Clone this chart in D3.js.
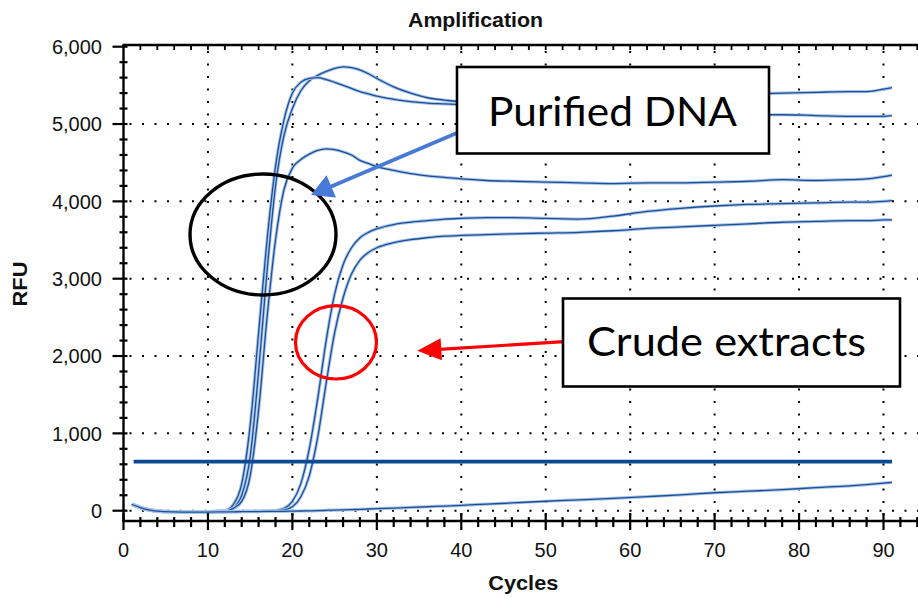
<!DOCTYPE html>
<html><head><meta charset="utf-8">
<script src="https://cdn.jsdelivr.net/npm/d3@7"></script>
<style>html,body{margin:0;padding:0;background:#fff;} svg{display:block;}</style>
</head><body>
<svg id="chart" width="918" height="598"></svg>
<script>
// ---------- data ----------
const chartTitle = "Amplification";
const xAxisTitle = "Cycles";
const yAxisTitle = "RFU";
const xTickValues = [0, 10, 20, 30, 40, 50, 60, 70, 80, 90];
const yTickValues = [0, 1000, 2000, 3000, 4000, 5000, 6000];
const cycles = [1,2,3,4,6,8,10,12,13,14,15,16,17,18,19,20,21,22,23,24,25,26,27,28,29,30,32,34,36,38,40,43,46,50,54,58,62,66,70,74,78,82,86,88,90,91];
const purifiedA = [85,42,12,-2,-12,-15,-12,-2,40,200,700,1800,3100,4200,4850,5200,5430,5560,5630,5680,5720,5740,5730,5700,5650,5590,5480,5400,5340,5310,5290,5290,5300,5320,5340,5350,5360,5370,5380,5390,5400,5410,5420,5420,5450,5470];
const purifiedB = [90,45,15,0,-12,-15,-12,0,80,350,1100,2300,3500,4450,5050,5400,5540,5590,5600,5575,5540,5500,5460,5420,5390,5360,5320,5290,5270,5260,5250,5230,5210,5190,5170,5150,5140,5130,5120,5120,5120,5110,5100,5100,5100,5110];
const purifiedC = [80,40,10,-5,-15,-18,-15,-5,30,120,450,1300,2500,3500,4150,4430,4540,4610,4660,4680,4670,4640,4600,4530,4490,4450,4400,4360,4330,4310,4290,4270,4260,4250,4240,4230,4240,4240,4250,4260,4280,4270,4280,4290,4320,4340];
const crudeA = [80,40,10,-5,-15,-18,-18,-15,-12,-10,-8,-5,-2,5,30,120,350,800,1450,2200,2800,3180,3400,3530,3600,3645,3700,3730,3750,3770,3780,3790,3790,3780,3770,3810,3870,3910,3940,3960,3970,3980,3990,3990,4000,4010];
const crudeB = [80,40,10,-5,-15,-18,-18,-15,-12,-10,-8,-6,-4,0,10,50,180,450,950,1650,2300,2750,3060,3240,3340,3400,3465,3505,3530,3550,3560,3570,3580,3590,3600,3620,3650,3670,3690,3710,3730,3740,3750,3750,3760,3760];
const negative = [80,40,10,-5,-15,-18,-18,-15,-14,-13,-12,-11,-10,-9,-8,-6,-4,-2,0,5,8,11,14,18,22,26,34,42,51,60,70,85,100,122,140,160,182,205,232,252,272,298,322,338,356,366];
const thresholdRFU = 634;
const thresholdCycles = [1.2, 91];
const labelPurified = "Purified DNA";
const labelCrude = "Crude extracts";

// ---------- layout ----------
const svg = d3.select("#chart");
const x = d3.scaleLinear().domain([0, 90]).range([123.5, 883.5]);
const y = d3.scaleLinear().domain([0, 6000]).range([510.7, 46.7]);
const pLeft = x(0), pRight = x(94.5), pTop = y(6022), pBottom = y(-134);

// grid (dotted)
const grid = svg.append("g").attr("stroke", "#000").attr("stroke-width", 2).attr("stroke-dasharray", "2,10.5");
grid.selectAll("line.gx").data(xTickValues.filter(d => d > 0)).join("line").attr("class", "gx")
  .attr("x1", d => x(d)).attr("x2", d => x(d)).attr("y1", pTop + 6).attr("y2", pBottom);
grid.selectAll("line.gy").data(yTickValues.filter(d => d < 6000)).join("line").attr("class", "gy")
  .attr("x1", pLeft + 6).attr("x2", pRight).attr("y1", d => y(d)).attr("y2", d => y(d));

// curves
const series = [purifiedA, purifiedB, purifiedC, crudeA, crudeB, negative];
const line = d3.line().x((d, i) => x(cycles[i])).y(d => y(d)).curve(d3.curveMonotoneX);
const curves = svg.append("g").attr("fill", "none");
series.forEach(s => {
  curves.append("path").attr("d", line(s)).attr("stroke", "#a7c5e8").attr("stroke-width", 3.2);
  curves.append("path").attr("d", line(s)).attr("stroke", "#1d4f98").attr("stroke-width", 1.3);
});

// threshold
svg.append("line")
  .attr("x1", x(thresholdCycles[0])).attr("x2", x(thresholdCycles[1]))
  .attr("y1", y(thresholdRFU)).attr("y2", y(thresholdRFU))
  .attr("stroke", "#0b4a94").attr("stroke-width", 3.8);

// axes frame
const ax = svg.append("g").attr("stroke", "#000");
ax.append("line").attr("x1", pLeft).attr("x2", pLeft).attr("y1", pTop).attr("y2", pBottom + 1).attr("stroke-width", 2.4);
ax.append("line").attr("x1", pLeft - 1).attr("x2", 918).attr("y1", pBottom).attr("y2", pBottom).attr("stroke-width", 2.4);
ax.append("line").attr("x1", pLeft - 1).attr("x2", 918).attr("y1", pTop).attr("y2", pTop).attr("stroke-width", 2.4);

// y ticks
const yMinor = d3.range(0, 6001, 200).filter(d => d % 1000 !== 0);
ax.selectAll("line.ymaj").data(yTickValues).join("line").attr("class", "ymaj")
  .attr("x1", pLeft - 11).attr("x2", pLeft + 4).attr("y1", d => y(d)).attr("y2", d => y(d)).attr("stroke-width", 2.2);
ax.selectAll("line.ymin").data(yMinor).join("line").attr("class", "ymin")
  .attr("x1", pLeft - 4).attr("x2", pLeft + 4).attr("y1", d => y(d)).attr("y2", d => y(d)).attr("stroke-width", 2.2);

// x ticks
const xMinor = d3.range(0, 95, 2).filter(d => d % 10 !== 0);
ax.selectAll("line.xmaj").data(xTickValues).join("line").attr("class", "xmaj")
  .attr("x1", d => x(d)).attr("x2", d => x(d)).attr("y1", pBottom - 8).attr("y2", pBottom + 9).attr("stroke-width", 2.2);
ax.selectAll("line.xmin").data(xMinor).join("line").attr("class", "xmin")
  .attr("x1", d => x(d)).attr("x2", d => x(d)).attr("y1", pBottom - 4).attr("y2", pBottom + 6).attr("stroke-width", 2.2);
// top border ticks
ax.selectAll("line.tmin").data(d3.range(2, 95, 2)).join("line").attr("class", "tmin")
  .attr("x1", d => x(d)).attr("x2", d => x(d)).attr("y1", pTop).attr("y2", pTop + 5).attr("stroke-width", 1.8);

// tick labels
const fmt = d3.format(",");
const lab = svg.append("g").attr("font-family", "'Liberation Sans', Arial, sans-serif").attr("font-size", 20).attr("fill", "#111");
lab.selectAll("text.yl").data(yTickValues).join("text").attr("class", "yl")
  .attr("x", 102).attr("y", d => y(d)).attr("dy", "0.36em").attr("text-anchor", "end").text(d => fmt(d));
lab.selectAll("text.xl").data(xTickValues).join("text").attr("class", "xl")
  .attr("x", d => x(d)).attr("y", 557).attr("text-anchor", "middle").text(d => d);

// titles
const tf = "'Liberation Sans', Arial, sans-serif";
svg.append("text").attr("x", 475.5).attr("y", 26.5).attr("text-anchor", "middle")
  .attr("font-family", tf).attr("font-weight", "bold").attr("font-size", 20)
  .attr("textLength", 135).attr("lengthAdjust", "spacingAndGlyphs").attr("fill", "#111").text(chartTitle);
svg.append("text").attr("x", 523.3).attr("y", 590).attr("text-anchor", "middle")
  .attr("font-family", tf).attr("font-weight", "bold").attr("font-size", 21)
  .attr("textLength", 70).attr("lengthAdjust", "spacingAndGlyphs").attr("fill", "#111").text(xAxisTitle);
svg.append("text").attr("transform", "translate(26.5,284) rotate(-90)").attr("text-anchor", "middle")
  .attr("font-family", tf).attr("font-weight", "bold").attr("font-size", 20)
  .attr("textLength", 45).attr("lengthAdjust", "spacingAndGlyphs").attr("fill", "#111").text(yAxisTitle);

// ---------- annotations ----------
const ann = svg.append("g");
ann.append("ellipse").attr("cx", 263).attr("cy", 234.5).attr("rx", 73).attr("ry", 60.5)
  .attr("fill", "none").attr("stroke", "#000").attr("stroke-width", 3.4);
ann.append("ellipse").attr("cx", 336).attr("cy", 342.3).attr("rx", 40.5).attr("ry", 36.7)
  .attr("fill", "none").attr("stroke", "#ff0000").attr("stroke-width", 3.2);

function arrow(x1, y1, x2, y2, color, w, headLen, headW) {
  const dx = x2 - x1, dy = y2 - y1, L = Math.hypot(dx, dy);
  const ux = dx / L, uy = dy / L, px = -uy, py = ux;
  const bx = x2 - ux * headLen, by = y2 - uy * headLen;
  ann.append("line").attr("x1", x1).attr("y1", y1).attr("x2", bx + ux * 2).attr("y2", by + uy * 2)
    .attr("stroke", color).attr("stroke-width", w);
  ann.append("path").attr("d", `M${x2},${y2}L${bx + px * headW / 2},${by + py * headW / 2}L${bx - px * headW / 2},${by - py * headW / 2}Z`)
    .attr("fill", color);
}
arrow(458, 132.5, 311, 195, "#477ad6", 3.8, 22, 24);
arrow(564, 341.7, 417.3, 350.7, "#ff0000", 3.2, 24, 22);

ann.append("rect").attr("x", 457).attr("y", 67).attr("width", 312).attr("height", 86.5)
  .attr("fill", "#fff").attr("stroke", "#000").attr("stroke-width", 2.6);
ann.append("text").attr("x", 612.5).attr("y", 126).attr("text-anchor", "middle")
  .attr("font-family", "Lato, 'Open Sans', sans-serif").attr("font-size", 40)
  .attr("textLength", 249).attr("lengthAdjust", "spacingAndGlyphs").attr("fill", "#000").text(labelPurified);
ann.append("rect").attr("x", 563).attr("y", 298.5).attr("width", 337).attr("height", 88)
  .attr("fill", "#fff").attr("stroke", "#000").attr("stroke-width", 2.6);
ann.append("text").attr("x", 726.5).attr("y", 355.5).attr("text-anchor", "middle")
  .attr("font-family", "Lato, 'Open Sans', sans-serif").attr("font-size", 40)
  .attr("textLength", 279).attr("lengthAdjust", "spacingAndGlyphs").attr("fill", "#000").text(labelCrude);
</script>
</body></html>
